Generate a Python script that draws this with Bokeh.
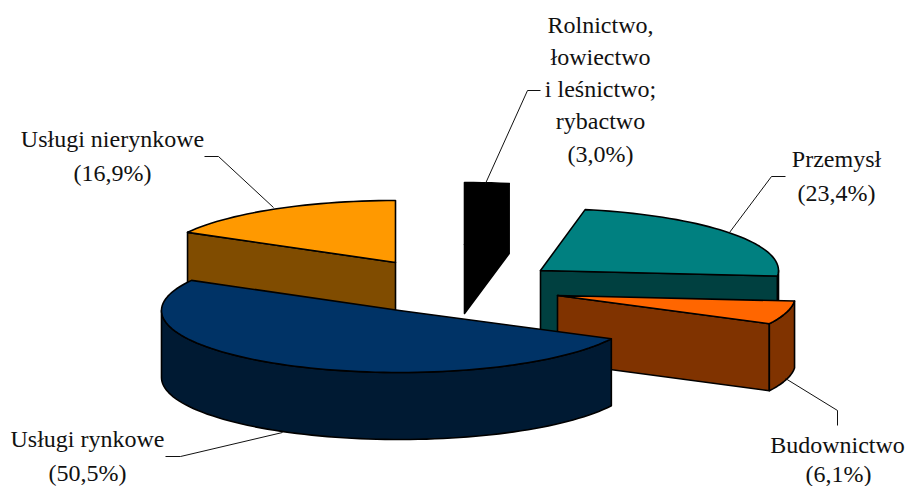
import math
from bokeh.plotting import figure
from bokeh.core.properties import value
from bokeh.embed import file_html
from bokeh.resources import INLINE

# Shares in percent, clockwise from 12 o'clock
categories = ["Rolnictwo, łowiectwo i leśnictwo; rybactwo", "Przemysł", "Budownictwo",
              "Usługi rynkowe", "Usługi nierynkowe"]
shares = [3.0, 23.4, 6.1, 50.5, 16.9]
top_colors = ["#000000", "#008080", "#ff6600", "#003366", "#ff9900"]
wall_colors = ["#000000", "#004040", "#803300", "#001a33", "#804c00"]
# Exploded centre of each slice (page pixels)
centre_x = [464, 540, 557, 399, 395]
centre_y = [244, 270, 295, 310, 262]
draw_order = [4, 0, 1, 2, 3]

# Label lines: text, x centre, vertical middle
label_text = ["Rolnictwo,", "łowiectwo", "i leśnictwo;", "rybactwo", "(3,0%)",
              "Przemysł", "(23,4%)", "Budownictwo", "(6,1%)",
              "Usługi rynkowe", "(50,5%)", "Usługi nierynkowe", "(16,9%)"]
label_x = [600, 600, 600, 600, 600, 836, 836, 837, 838, 87, 87, 112, 112]
label_y = [24, 56, 88, 120, 153, 158, 192, 444, 473, 438, 472, 138, 172]

# Leader lines
leader_x = [[485, 527, 540], [729, 771, 785], [785, 837, 837], [282, 180, 165], [273, 218, 204]]
leader_y = [[183, 90, 90], [232, 176, 176], [378, 410, 425], [432, 456, 456], [207, 156, 156]]

RX, RY, DEPTH = 238.0, 62.0, 67.0
W, H = 905, 486

p = figure(width=W, height=H, x_range=(0, W), y_range=(H, 0),
           x_axis_type=None, y_axis_type=None, toolbar_location=None,
           output_backend="svg", min_border=0, outline_line_color=None)
p.grid.visible = False


def pt(cx, cy, deg, r=1.0):
    a = math.radians(deg)
    return cx + r * RX * math.sin(a), cy - r * RY * math.cos(a)


total = sum(shares)
starts = []
acc = 0.0
for s in shares:
    starts.append(acc)
    acc += 360.0 * s / total

LW = 1.6
for i in draw_order:
    a0 = starts[i]
    a1 = a0 + 360.0 * shares[i] / total
    cx, cy = centre_x[i], centre_y[i]
    n = max(4, int((a1 - a0) / 2))
    arc = [pt(cx, cy, a0 + (a1 - a0) * k / n) for k in range(n + 1)]
    style = dict(line_color="black", line_width=LW, line_join="round")

    # radial wall facing the viewer
    if i in (1, 2, 4):
        ex, ey = pt(cx, cy, a0 if a1 > 270 else a1)
        p.patch([cx, ex, ex, cx], [cy, ey, ey + DEPTH, cy + DEPTH],
                fill_color=wall_colors[i], **style)
    # black slice silhouette
    if i == 0:
        ex, ey = arc[-1]
        p.patch([cx, ex, ex, cx], [cy, ey, ey + DEPTH + 3, cy + DEPTH + 2],
                fill_color=wall_colors[i], **style)

    # outer wall, visible between 90 and 270 degrees
    lo, hi = max(a0, 90.0), min(a1, 270.0)
    if lo < hi:
        m = max(2, int((hi - lo) / 2))
        front = [pt(cx, cy, lo + (hi - lo) * k / m) for k in range(m + 1)]
        xs = [q[0] for q in front] + [q[0] for q in reversed(front)]
        ys = [q[1] for q in front] + [q[1] + DEPTH for q in reversed(front)]
        p.patch(xs, ys, fill_color=wall_colors[i], **style)

    # top face
    p.patch([cx] + [q[0] for q in arc], [cy] + [q[1] for q in arc],
            fill_color=top_colors[i], **style)

for xs, ys in zip(leader_x, leader_y):
    p.line(xs, ys, line_color="#111111", line_width=1)

p.text(label_x, label_y, text=label_text, text_font=value("Liberation Serif"),
       text_font_size="24px", text_align="center", text_baseline="middle",
       text_color="#111111")

open("out.html", "w").write(file_html(p, INLINE))
